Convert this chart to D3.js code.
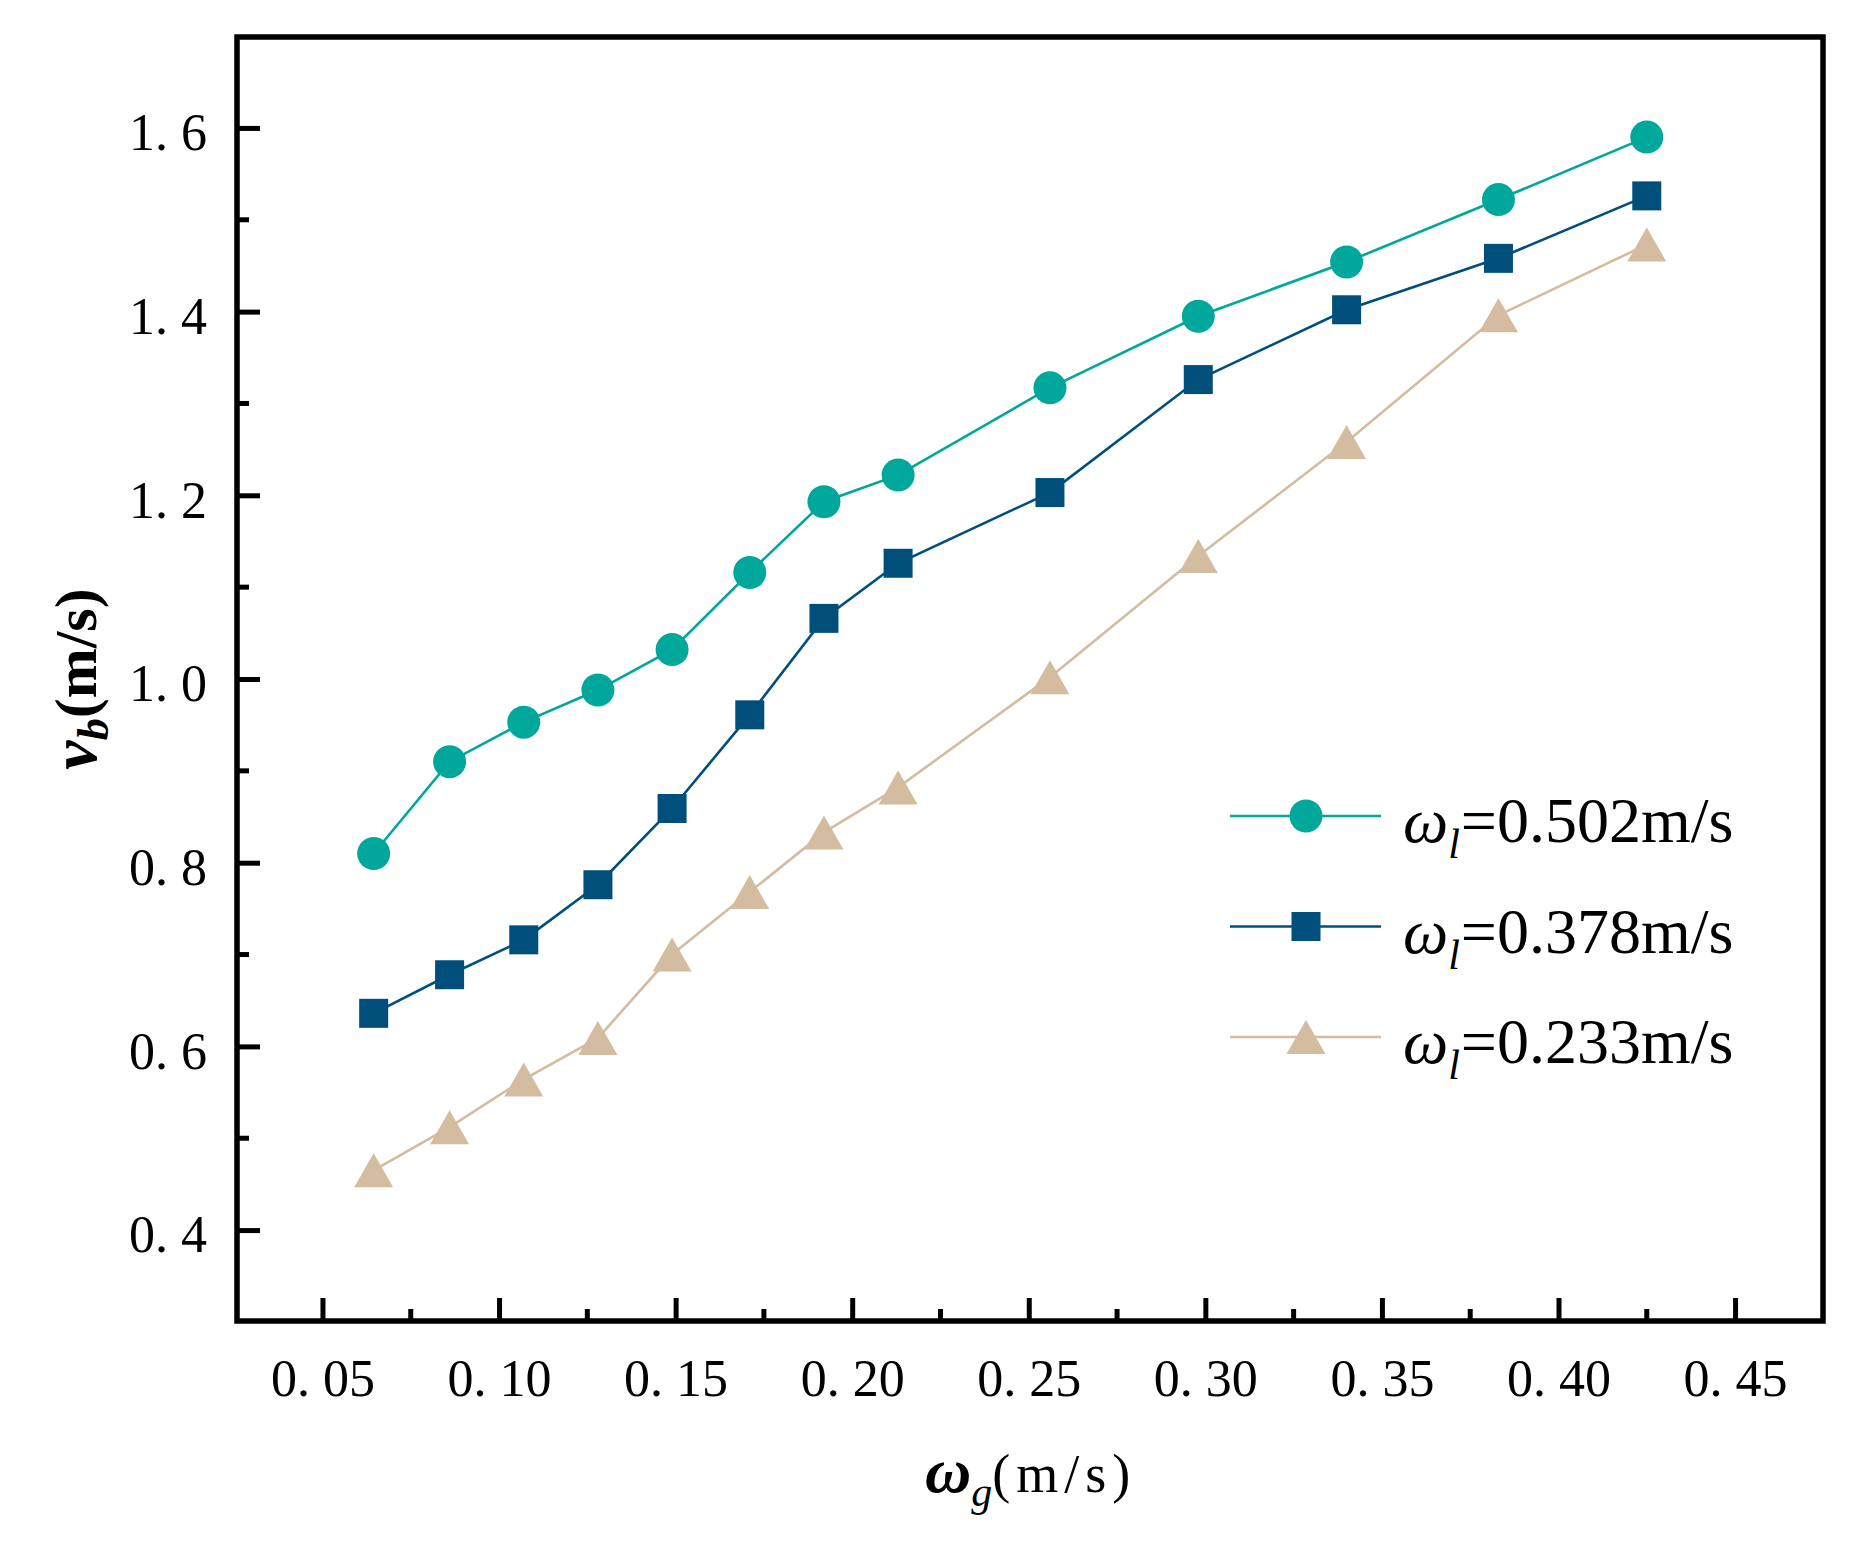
<!DOCTYPE html>
<html>
<head>
<meta charset="utf-8">
<script src="https://cdn.jsdelivr.net/npm/d3@7"></script>
<style>
  body { margin: 0; background: #fff; }
  svg { display: block; }
</style>
</head>
<body>
<div id="chart"></div>
<script>
// superficial gas velocity (x) and bubble velocity for three liquid velocities
const gasVelocity = [0.0645, 0.086, 0.107, 0.128, 0.149, 0.171, 0.192, 0.213, 0.256, 0.298, 0.340, 0.383, 0.425];
const vb502 = [0.810, 0.910, 0.953, 0.988, 1.032, 1.116, 1.193, 1.222, 1.317, 1.395, 1.454, 1.522, 1.590];
const vb378 = [0.636, 0.678, 0.716, 0.776, 0.859, 0.961, 1.066, 1.126, 1.203, 1.326, 1.402, 1.458, 1.526];
const vb233 = [0.465, 0.512, 0.564, 0.609, 0.700, 0.768, 0.833, 0.882, 1.002, 1.134, 1.258, 1.396, 1.473];
const seriesLabels = ['=0.502m/s', '=0.378m/s', '=0.233m/s'];
const xTicks = [0.05, 0.10, 0.15, 0.20, 0.25, 0.30, 0.35, 0.40, 0.45];
const yTicks = [0.4, 0.6, 0.8, 1.0, 1.2, 1.4, 1.6];

const width = 1858;
const height = 1554;
const margin = { top: 37, right: 35, bottom: 233, left: 237 };
const innerW = width - margin.left - margin.right;
const innerH = height - margin.top - margin.bottom;

const colors = ['#00a79b', '#004f7b', '#d3bc9f'];
const shapes = ['circle', 'square', 'triangle'];

const series = [vb502, vb378, vb233].map((vals, i) => ({
  label: seriesLabels[i],
  color: colors[i],
  shape: shapes[i],
  points: vals.map((v, j) => ({ x: gasVelocity[j], y: v }))
}));

const svg = d3.select('#chart')
  .append('svg')
  .attr('width', width)
  .attr('height', height);

const g = svg.append('g')
  .attr('transform', `translate(${margin.left},${margin.top})`);

const x = d3.scaleLinear().domain([0.0258, 0.4749]).range([0, innerW]);
const y = d3.scaleLinear().domain([0.301, 1.699]).range([innerH, 0]);

// marker drawing helper
function marker(sel, shape, color) {
  if (shape === 'circle') {
    sel.append('circle').attr('r', 16.5).attr('fill', color);
  } else if (shape === 'square') {
    sel.append('rect').attr('x', -14.5).attr('y', -14.5)
      .attr('width', 29).attr('height', 29).attr('fill', color);
  } else {
    sel.append('path').attr('d', 'M0,-17L19.5,17L-19.5,17Z').attr('fill', color);
  }
}

const tickFont = "'Liberation Serif', 'DejaVu Serif', serif";

// x axis (bottom, ticks inward)
const xAxis = g.append('g')
  .attr('transform', `translate(0,${innerH})`)
  .call(d3.axisBottom(x).tickValues(xTicks).tickSize(-23).tickPadding(38)
    .tickFormat(d => d.toFixed(2).replace('.', '. ')));
xAxis.select('.domain').remove();
xAxis.selectAll('line').attr('stroke', '#000').attr('stroke-width', 5);
xAxis.selectAll('text')
  .attr('font-family', tickFont).attr('font-size', 52).attr('fill', '#000')
  .attr('dy', '0.71em');

const xMinor = d3.range(0.075, 0.45, 0.05);
g.append('g').selectAll('line')
  .data(xMinor)
  .enter().append('line')
  .attr('x1', d => x(d)).attr('x2', d => x(d))
  .attr('y1', innerH).attr('y2', innerH - 12)
  .attr('stroke', '#000').attr('stroke-width', 5);

// y axis (left, ticks inward)
const yAxis = g.append('g')
  .call(d3.axisLeft(y).tickValues(yTicks).tickSize(-23).tickPadding(30)
    .tickFormat(d => d.toFixed(1).replace('.', '. ')));
yAxis.select('.domain').remove();
yAxis.selectAll('line').attr('stroke', '#000').attr('stroke-width', 5);
yAxis.selectAll('text')
  .attr('font-family', tickFont).attr('font-size', 52).attr('fill', '#000')
  .attr('dy', '0.42em');

const yMinor = d3.range(0.5, 1.7, 0.2);
g.append('g').selectAll('line')
  .data(yMinor)
  .enter().append('line')
  .attr('x1', 0).attr('x2', 12)
  .attr('y1', d => y(d)).attr('y2', d => y(d))
  .attr('stroke', '#000').attr('stroke-width', 5);

// frame
g.append('rect')
  .attr('width', innerW).attr('height', innerH)
  .attr('fill', 'none').attr('stroke', '#000').attr('stroke-width', 5.5);

// lines and markers
const line = d3.line().x(d => x(d.x)).y(d => y(d.y));

series.forEach(s => {
  g.append('path')
    .datum(s.points)
    .attr('fill', 'none')
    .attr('stroke', s.color)
    .attr('stroke-width', 2.6)
    .attr('d', line);

  g.append('g').selectAll('g')
    .data(s.points)
    .enter().append('g')
    .attr('transform', d => `translate(${x(d.x)},${y(d.y)})`)
    .each(function () { marker(d3.select(this), s.shape, s.color); });
});

// legend
const legend = svg.append('g').attr('transform', 'translate(1230,816)');
series.forEach((s, i) => {
  const row = legend.append('g').attr('transform', `translate(0,${i * 110.5})`);
  row.append('line').attr('x1', 0).attr('x2', 151).attr('y1', 0).attr('y2', 0)
    .attr('stroke', s.color).attr('stroke-width', 2.6);
  marker(row.append('g').attr('transform', 'translate(76,0)'), s.shape, s.color);
  const t = row.append('text')
    .attr('x', 173).attr('y', 26)
    .attr('font-family', "'Liberation Serif', serif")
    .attr('font-size', 64).attr('fill', '#000');
  t.append('tspan').attr('font-style', 'italic').text('ω');
  t.append('tspan').attr('font-style', 'italic').attr('font-size', 42)
    .attr('dy', 16).text('l');
  t.append('tspan').attr('dy', -16).attr('dx', 1).text(s.label);
});

// axis titles
const xt = svg.append('text')
  .attr('x', margin.left + x(0.2505)).attr('y', 1492)
  .attr('text-anchor', 'middle')
  .attr('font-family', "'Liberation Serif', serif")
  .attr('fill', '#000');
xt.append('tspan').attr('font-size', 64).attr('font-weight', 'bold').attr('font-style', 'italic').text('ω');
xt.append('tspan').attr('font-size', 42).attr('font-style', 'italic').attr('dy', 14).text('g');
xt.append('tspan').attr('font-size', 54).attr('dy', -14).attr('letter-spacing', 6).text('(m/s)');

const yt = svg.append('text')
  .attr('transform', 'translate(96,679) rotate(-90)')
  .attr('text-anchor', 'middle')
  .attr('font-family', "'Liberation Serif', serif")
  .attr('font-weight', 'bold')
  .attr('fill', '#000');
yt.append('tspan').attr('font-size', 66).attr('font-style', 'italic').text('v');
yt.append('tspan').attr('font-size', 44).attr('font-style', 'italic').attr('dy', 12).text('b');
yt.append('tspan').attr('font-size', 60).attr('dy', -12).text('(m/s)');
</script>
</body>
</html>
